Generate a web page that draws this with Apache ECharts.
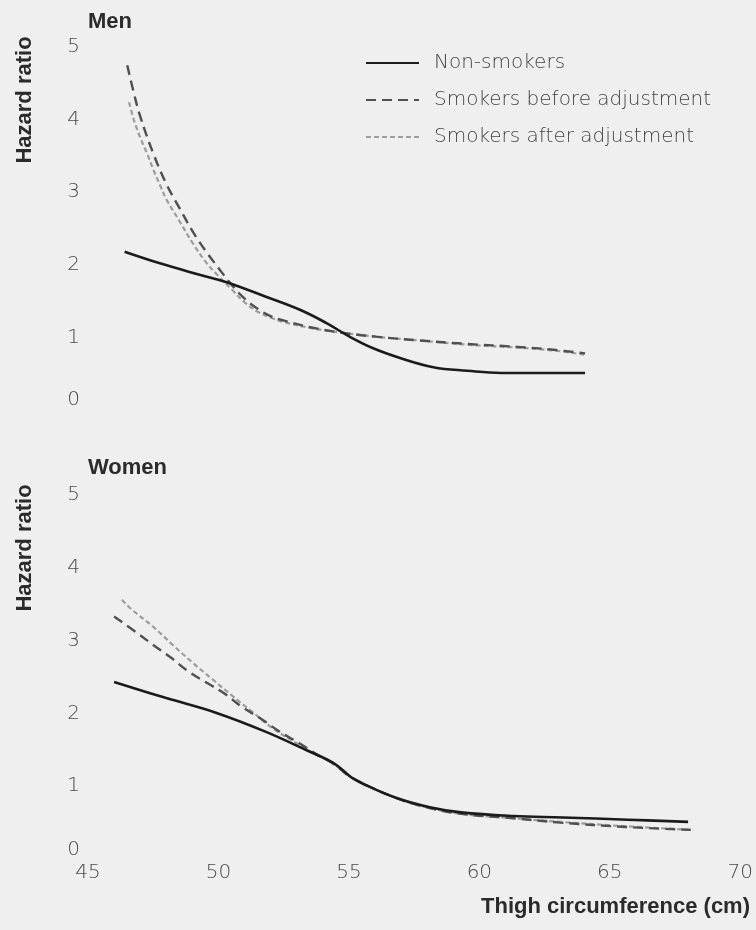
<!DOCTYPE html>
<html>
<head>
<meta charset="utf-8">
<script src="https://cdn.jsdelivr.net/npm/echarts@6/dist/echarts.min.js"></script>
<style>
  html, body { margin: 0; padding: 0; background: #efefef; }
  #chart { width: 756px; height: 930px; }
</style>
</head>
<body>
<div id="chart"></div>
<script>
// Hazard ratio by thigh circumference (cm), men and women
const xTicks = [45, 50, 55, 60, 65, 70];
const yTicks = [0, 1, 2, 3, 4, 5];
const seriesNames = ['Non-smokers', 'Smokers before adjustment', 'Smokers after adjustment'];
const panelTitles = ['Men', 'Women'];
const yAxisTitle = 'Hazard ratio';
const xAxisTitle = 'Thigh circumference (cm)';

// Men: [thigh circumference, hazard ratio]
const menNonSmokers = [
  [46.4, 2.18], [47.75, 2.02], [49.3, 1.86], [50.3, 1.76], [51.8, 1.56], [53.1, 1.38],
  [54.1, 1.20], [55.0, 1.01], [55.9, 0.85], [56.9, 0.72], [58.2, 0.59], [59.5, 0.54],
  [60.8, 0.51], [62.0, 0.51], [64.0, 0.51]
];
const menSmokersBefore = [
  [46.5, 4.75], [46.75, 4.37], [47.0, 4.04], [47.5, 3.53], [48.0, 3.11], [48.5, 2.78],
  [49.0, 2.46], [49.5, 2.19], [50.0, 1.95], [50.5, 1.72], [51.0, 1.53], [51.5, 1.39],
  [52.0, 1.29], [52.5, 1.23], [53.5, 1.14], [54.6, 1.07], [56.0, 1.01], [57.6, 0.96],
  [59.5, 0.91], [61.4, 0.87], [62.8, 0.83], [64.0, 0.78]
];
const menSmokersAfter = [
  [46.57, 4.24], [46.75, 4.0], [47.0, 3.75], [47.25, 3.54], [47.5, 3.31], [47.75, 3.1],
  [48.0, 2.9], [48.5, 2.6], [49.0, 2.3], [49.5, 2.04], [50.0, 1.84], [50.5, 1.66],
  [51.0, 1.48], [51.5, 1.35], [52.0, 1.27], [52.5, 1.21], [53.5, 1.13], [54.6, 1.07],
  [56.0, 1.01], [57.6, 0.96], [59.5, 0.90], [61.4, 0.86], [62.8, 0.82], [64.0, 0.76]
];

// Women: [thigh circumference, hazard ratio]
const womenNonSmokers = [
  [46.0, 2.43], [48.0, 2.21], [49.9, 2.01], [51.8, 1.75], [53.4, 1.49], [54.4, 1.32],
  [55.1, 1.12], [55.5, 1.04], [56.8, 0.84], [58.1, 0.71], [59.3, 0.64], [61.3, 0.59],
  [63.2, 0.57], [65.7, 0.54], [68.0, 0.51]
];
const womenSmokersBefore = [
  [46.0, 3.33], [46.9, 3.1], [47.5, 2.94], [48.2, 2.76], [48.8, 2.59], [49.55, 2.42],
  [50.2, 2.28], [50.9, 2.09], [51.7, 1.91], [52.3, 1.76], [53.1, 1.59], [53.8, 1.43],
  [54.4, 1.31], [55.1, 1.12], [56.8, 0.84], [58.1, 0.70], [59.3, 0.62], [61.3, 0.56],
  [63.1, 0.50], [65.6, 0.44], [68.1, 0.40]
];
const womenSmokersAfter = [
  [46.3, 3.56], [46.7, 3.42], [47.5, 3.19], [48.25, 2.94], [49.0, 2.7], [49.8, 2.46],
  [50.5, 2.25], [51.3, 2.02], [52.1, 1.79], [53.0, 1.59], [53.6, 1.46], [54.4, 1.31],
  [55.1, 1.12], [56.8, 0.84], [58.1, 0.70], [59.3, 0.62], [61.3, 0.56], [63.1, 0.51],
  [65.6, 0.45], [68.2, 0.40]
];

const labelFont = 'DejaVu Sans';
const titleFont = 'Liberation Sans';
const labelColor = '#4a4a4a';
const titleColor = '#2b2b2b';

const lineStyles = [
  { color: '#1b1b1b', width: 2.6, type: 'solid' },
  { color: '#505050', width: 2.4, type: [10, 6] },
  { color: '#9c9c9c', width: 2.2, type: [5, 3] }
];

function makeSeries(name, data, idx, styleIdx) {
  const ls = lineStyles[styleIdx];
  return {
    name: name,
    type: 'line',
    xAxisIndex: idx,
    yAxisIndex: idx,
    data: data,
    smooth: 0.4,
    symbol: 'none',
    color: ls.color,
    lineStyle: { color: ls.color, width: ls.width, type: ls.type },
    z: 3 - styleIdx
  };
}

const tickText = { fontFamily: labelFont, fontSize: 20, fontWeight: 300, color: labelColor };

// the zero label sits a little above its baseline value
function yAxisFor(gridIndex, zeroLift) {
  return {
    gridIndex: gridIndex,
    type: 'value',
    min: yTicks[0],
    max: yTicks[yTicks.length - 1],
    interval: 1,
    axisLine: { show: false },
    axisTick: { show: false },
    splitLine: { show: false },
    axisLabel: Object.assign({}, tickText, {
      margin: 8,
      formatter: function (v) { return v === 0 ? '{z|0}' : String(v); },
      rich: { z: Object.assign({}, tickText, { padding: [0, 0, zeroLift * 2, 0] }) }
    })
  };
}

const xAxisBase = {
  type: 'value',
  min: xTicks[0],
  max: xTicks[xTicks.length - 1],
  interval: 5,
  axisLine: { show: false },
  axisTick: { show: false },
  splitLine: { show: false }
};

const chart = echarts.init(document.getElementById('chart'), null, { renderer: 'canvas' });
chart.setOption({
  backgroundColor: '#efefef',
  animation: false,
  grid: [
    { left: 88, right: 14, top: 47, height: 363 },
    { left: 88, right: 14, top: 495, height: 364 }
  ],
  xAxis: [
    Object.assign({}, xAxisBase, { gridIndex: 0, axisLabel: { show: false } }),
    Object.assign({}, xAxisBase, {
      gridIndex: 1,
      axisLabel: Object.assign({}, tickText, { margin: 4 })
    })
  ],
  yAxis: [yAxisFor(0, 10), yAxisFor(1, 9)],
  legend: {
    data: seriesNames,
    orient: 'vertical',
    left: 365,
    top: 52,
    padding: 0,
    itemWidth: 53,
    itemHeight: 14,
    itemGap: 15,
    itemStyle: { opacity: 0 },
    textStyle: {
      fontFamily: labelFont, fontSize: 20, fontWeight: 300, color: '#444',
      lineHeight: 22, padding: [0, 0, 0, 10]
    }
  },
  graphic: [
    { type: 'text', x: 88, y: 22, style: { text: panelTitles[0], font: 'bold 22px ' + titleFont, fill: titleColor, align: 'left', verticalAlign: 'middle' } },
    { type: 'text', x: 88, y: 468, style: { text: panelTitles[1], font: 'bold 22px ' + titleFont, fill: titleColor, align: 'left', verticalAlign: 'middle' } },
    { type: 'text', x: 25, y: 100, rotation: Math.PI / 2, style: { text: yAxisTitle, font: 'bold 22px ' + titleFont, fill: titleColor, align: 'center', verticalAlign: 'middle' } },
    { type: 'text', x: 25, y: 548, rotation: Math.PI / 2, style: { text: yAxisTitle, font: 'bold 22px ' + titleFont, fill: titleColor, align: 'center', verticalAlign: 'middle' } },
    { type: 'text', x: 750, y: 907, style: { text: xAxisTitle, font: 'bold 22px ' + titleFont, fill: titleColor, align: 'right', verticalAlign: 'middle' } }
  ],
  series: [
    makeSeries(seriesNames[0], menNonSmokers, 0, 0),
    makeSeries(seriesNames[1], menSmokersBefore, 0, 1),
    makeSeries(seriesNames[2], menSmokersAfter, 0, 2),
    makeSeries(seriesNames[0], womenNonSmokers, 1, 0),
    makeSeries(seriesNames[1], womenSmokersBefore, 1, 1),
    makeSeries(seriesNames[2], womenSmokersAfter, 1, 2)
  ]
});
</script>
</body>
</html>
